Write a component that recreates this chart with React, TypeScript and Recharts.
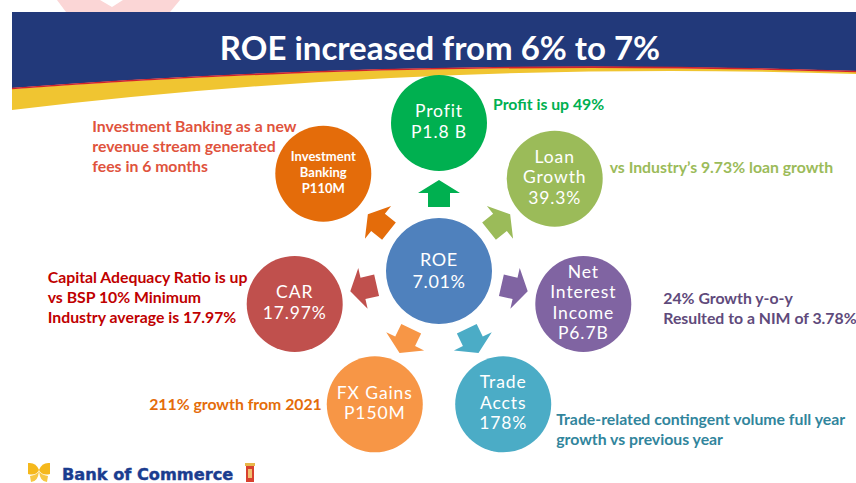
import React from 'react';
import { PieChart, Pie, Customized } from 'recharts';

// outer nodes, clockwise from the top
const nodeNames = ['Profit', 'Loan Growth', 'Net Interest Income', 'Trade Accts', 'FX Gains', 'CAR', 'Investment Banking'];
const nodeLines = [
  ['Profit', 'P1.8 B'],
  ['Loan', 'Growth', '39.3%'],
  ['Net', 'Interest', 'Income', 'P6.7B'],
  ['Trade', 'Accts', '178%'],
  ['FX Gains', 'P150M'],
  ['CAR', '17.97%'],
  ['Investment', 'Banking', 'P110M'],
];
const nodeNotes = [
  ['Profit is up 49%'],
  ['vs Industry\u2019s 9.73% loan growth'],
  ['24% Growth y-o-y', 'Resulted to a NIM of 3.78%'],
  ['Trade-related contingent volume full year', 'growth vs previous year'],
  ['211% growth from 2021'],
  ['Capital Adequacy Ratio is up', 'vs BSP 10% Minimum', 'Industry average is 17.97%'],
  ['Investment Banking as a new', 'revenue stream generated', 'fees in 6 months'],
];
const centerLines = ['ROE', '7.01%'];
const title = 'ROE increased from 6% to 7%';

const nodeColors = ['#00b050', '#9bbb59', '#8064a2', '#4bacc6', '#f79646', '#c0504d', '#e46c0a'];
const noteColors = ['#00b050', '#9bbb59', '#604a7b', '#31859c', '#e46c0a', '#c00000', '#e0533d'];
// note placement relative to each node centre
const noteLayout = [
  { dx: 54, dy: -20, anchor: 'start' },
  { dx: 55, dy: -12, anchor: 'start' },
  { dx: 80, dy: -6, anchor: 'start' },
  { dx: 53, dy: 14, anchor: 'start' },
  { dx: -53, dy: -1, anchor: 'end' },
  { dx: -247, dy: -27, anchor: 'start' },
  { dx: -231, dy: -53, anchor: 'start' },
];

const nodeData = nodeNames.map((name) => ({ name, value: 1 }));
const centerData = [{ name: centerLines[0], value: 1 }];

const FONT = 'Lato, sans-serif';
const RAD = Math.PI / 180;

function renderNode(props: any) {
  const { cx, cy, midAngle, outerRadius, index } = props;
  const ux = Math.cos(-midAngle * RAD);
  const uy = Math.sin(-midAngle * RAD);
  const nx = cx + outerRadius * ux;
  const ny = cy + outerRadius * uy - (index === 6 ? 5 : 0);
  const color = nodeColors[index];
  const pt = (t: number, w: number) => `${cx + t * ux - w * uy},${cy + t * uy + w * ux}`;
  const arrow = [pt(64, -11), pt(78, -11), pt(78, -21), pt(91, 0), pt(78, 21), pt(78, 11), pt(64, 11)].join(' ');
  const lines = nodeLines[index];
  const small = index === 6;
  const lh = small ? 16 : 20.5;
  const notes = nodeNotes[index];
  const lay = noteLayout[index];
  return (
    <g key={`node-${index}`}>
      <polygon points={arrow} fill={color} />
      <circle cx={nx} cy={ny} r={48} fill={color} />
      {lines.map((l, i) => (
        <text
          key={i}
          x={nx}
          y={ny - 2 + (i - (lines.length - 1) / 2) * lh}
          textAnchor="middle"
          dominantBaseline="central"
          fill="#fff"
          fontFamily={FONT}
          fontSize={small ? 13 : 17.5}
          fontWeight={small ? 700 : 400}
          letterSpacing={small ? 0 : 0.9}
        >
          {l}
        </text>
      ))}
      {notes.map((l, i) => (
        <text
          key={`n${i}`}
          x={nx + lay.dx}
          y={ny + lay.dy + (index === 6 ? 5 : 0) + i * 19.8}
          textAnchor={lay.anchor as any}
          dominantBaseline="central"
          fill={noteColors[index]}
          fontFamily={FONT}
          fontSize={15.8}
          fontWeight={700}
        >
          {l}
        </text>
      ))}
    </g>
  );
}

function renderCenter(props: any) {
  const { cx, cy } = props;
  return (
    <g key="center">
      {centerLines.map((l, i) => (
        <text
          key={i}
          x={cx}
          y={cy - 1 + (i - 0.5) * 22}
          textAnchor="middle"
          dominantBaseline="central"
          fill="#fff"
          fontFamily={FONT}
          fontSize={18}
          letterSpacing={0.6}
        >
          {l}
        </text>
      ))}
    </g>
  );
}

function Decor() {
  return (
    <g>
      {/* faint watermark above the banner */}
      <polygon points="57,0 100,0 112,7 123,0 180,0 170,12 66,12" fill="#fbd6d6" />
      {/* banner */}
      <path d="M12,12 L856,12 L856,71 Q430,57 12,88 Z" fill="#22397a" />
      <path d="M12,89 Q430,58 856,72 L856,74 Q430,60 12,110 Z" fill="#f0c531" />
      <path d="M12,88.5 Q430,57.5 856,71.5" fill="none" stroke="#d2232a" strokeWidth={1.6} />
      <text x={440} y={47} textAnchor="middle" dominantBaseline="central" fill="#fff" fontFamily={FONT} fontSize={33} fontWeight={700}>
        {title}
      </text>
      {/* logo */}
      <g>
        <path d="M28,463 Q36,462 39,470 Q36,476 28,474 Z" fill="#f5b81c" />
        <path d="M50,463 Q42,462 39,470 Q42,476 50,474 Z" fill="#f5b81c" />
        <path d="M30,476 Q37,475 39,471 Q38,482 31,482 Z" fill="#f7c744" />
        <path d="M48,476 Q41,475 39,471 Q40,482 47,482 Z" fill="#f7c744" />
        <text x={62} y={480} fill="#1a3c8f" fontFamily="DejaVu Sans, sans-serif" fontSize={16.2} fontWeight={700} stroke="#1a3c8f" strokeWidth={0.4}>
          Bank of Commerce
        </text>
        <rect x={246} y={465} width={8} height={17} fill="#d8412f" />
        <rect x={245} y={463} width={10} height={3} fill="#e8b84a" />
        <rect x={248} y={469} width={4} height={9} fill="#f0c070" />
      </g>
    </g>
  );
}

export default function App() {
  return (
    <div style={{ position: 'absolute', left: 0, top: 0, width: 856, height: 483, background: '#fff', overflow: 'hidden' }}>
      <PieChart width={856} height={483} margin={{ top: 0, right: 0, bottom: 0, left: 0 }}>
        <Customized component={<Decor />} />
        <Pie
          data={nodeData}
          dataKey="value"
          nameKey="name"
          cx={439}
          cy={271}
          innerRadius={0}
          outerRadius={148}
          startAngle={115.714}
          endAngle={-244.286}
          fill="none"
          stroke="none"
          label={renderNode}
          labelLine={false}
          isAnimationActive={false}
        />
        <Pie
          data={centerData}
          dataKey="value"
          nameKey="name"
          cx={439}
          cy={271}
          outerRadius={53}
          fill="#4f81bd"
          stroke="none"
          label={renderCenter}
          labelLine={false}
          isAnimationActive={false}
        />
      </PieChart>
    </div>
  );
}
